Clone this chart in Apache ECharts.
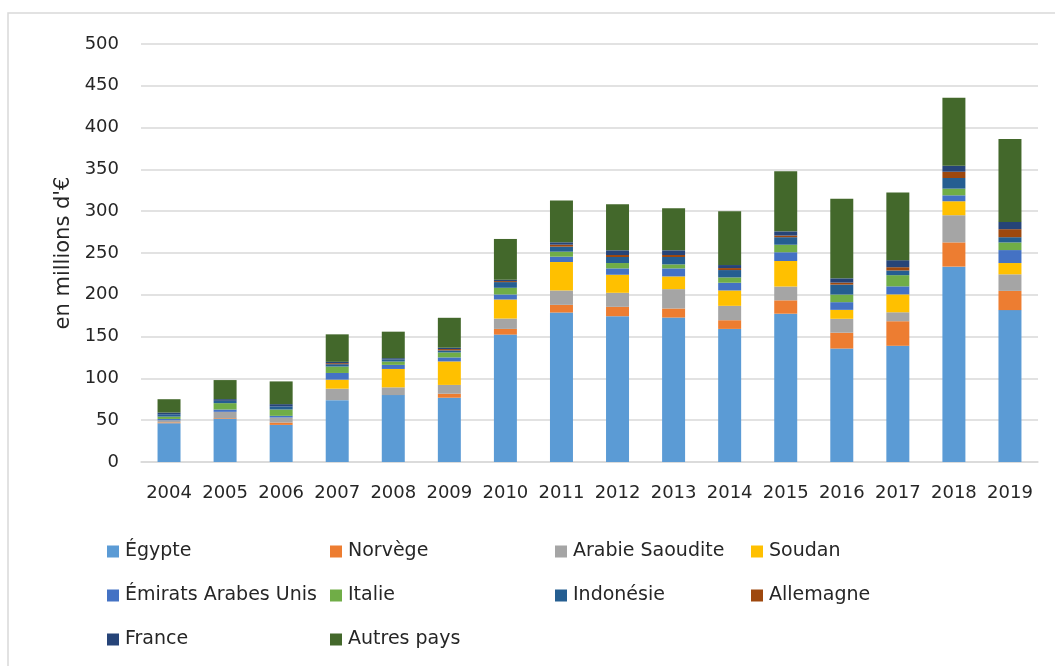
<!DOCTYPE html>
<html>
<head>
<meta charset="utf-8">
<script src="https://cdn.jsdelivr.net/npm/echarts@6/dist/echarts.min.js"></script>
<style>
  html, body { margin: 0; padding: 0; background: #ffffff; }
  #chart { width: 1055px; height: 666px; }
</style>
</head>
<body>
<div id="chart"></div>
<script>
// Exports by destination country, in millions of euros
const years = ['2004','2005','2006','2007','2008','2009','2010','2011','2012','2013','2014','2015','2016','2017','2018','2019'];
const egypte    = [46.4, 51.6, 44.4, 74.0, 80.0, 76.9, 152.4, 178.8, 174.4, 172.8, 159.2, 177.4, 135.7, 139.0, 233.7, 181.7];
const norvege   = [1.0, 0.8, 2.8, 0, 0, 4.8, 6.8, 9.2, 11.2, 10.8, 10.4, 16.0, 19.0, 29.4, 29.0, 23.0];
const arabie    = [2.5, 7.6, 6.0, 13.7, 9.3, 10.5, 12.4, 17.2, 16.8, 23.2, 17.2, 16.5, 16.6, 10.7, 32.5, 19.8];
const soudan    = [0, 0, 0, 10.8, 22.0, 28.1, 22.8, 34.0, 21.6, 15.2, 18.4, 30.5, 10.7, 21.4, 16.7, 13.5];
const emirats   = [1.6, 2.8, 2.0, 8.0, 4.9, 4.8, 6.0, 6.4, 7.6, 9.6, 9.2, 10.5, 9.2, 9.6, 7.1, 15.5];
const italie    = [2.8, 7.6, 7.6, 7.7, 4.0, 6.0, 8.0, 6.0, 6.4, 4.8, 6.4, 9.0, 9.1, 13.4, 8.0, 9.1];
const indonesie = [2.8, 2.8, 3.6, 2.8, 2.4, 2.4, 6.8, 6.0, 7.2, 8.8, 8.8, 9.0, 11.9, 5.6, 12.7, 6.3];
const allemagne = [0, 0, 0, 1.2, 0, 1.6, 1.2, 2.4, 2.4, 2.4, 2.4, 2.0, 2.4, 3.9, 7.5, 9.6];
const france    = [2.0, 2.0, 2.8, 1.6, 1.6, 1.6, 1.6, 2.8, 5.6, 5.6, 3.6, 5.0, 5.1, 8.4, 7.2, 8.7];
const autres    = [16.0, 22.8, 27.2, 32.9, 31.7, 35.8, 48.8, 50.0, 55.2, 50.4, 64.4, 72.0, 95.2, 81.0, 81.3, 99.2];

const seriesNames = ['Égypte','Norvège','Arabie Saoudite','Soudan','Émirats Arabes Unis','Italie','Indonésie','Allemagne','France','Autres pays'];
const seriesData  = [egypte, norvege, arabie, soudan, emirats, italie, indonesie, allemagne, france, autres];
const colors = ['#5B9BD5','#ED7D31','#A5A5A5','#FFC000','#4472C4','#70AD47','#255E91','#9E480E','#264478','#43682B'];

const FONT = '"DejaVu Sans", sans-serif';
const TEXT = '#262626';

// legend laid out as a 4-column grid, one legend block per entry
const legendCols = [102, 325, 550, 746];
const legendRows = [537, 581, 625];
const legends = seriesNames.map((name, i) => ({
  data: [name],
  left: legendCols[i % 4],
  top: legendRows[Math.floor(i / 4)],
  icon: 'rect',
  itemWidth: 12,
  itemHeight: 12,
  textStyle: { fontFamily: FONT, fontSize: 19, color: TEXT, padding: [0, 0, 0, 1] },
  selectedMode: false
}));

const chart = echarts.init(document.getElementById('chart'), null, { renderer: 'canvas' });
chart.setOption({
  animation: false,
  color: colors,
  grid: { left: 141, right: 17, top: 44, bottom: 204, containLabel: false },
  legend: legends,
  graphic: [{
    type: 'rect',
    shape: { x: 8, y: 13, width: 1060, height: 670 },
    style: { fill: 'none', stroke: '#D9D9D9', lineWidth: 1.5 },
    silent: true
  }],
  xAxis: {
    type: 'category',
    data: years,
    axisLine: { lineStyle: { color: '#D9D9D9', width: 1.5 } },
    axisTick: { show: false },
    axisLabel: { fontFamily: FONT, fontSize: 18, color: TEXT, margin: 22, interval: 0 }
  },
  yAxis: {
    type: 'value',
    min: 0, max: 500, interval: 50,
    name: "en millions d'€",
    nameLocation: 'middle',
    nameRotate: 90,
    nameGap: 67,
    nameTextStyle: { fontFamily: FONT, fontSize: 21, color: TEXT },
    axisLine: { show: false },
    axisTick: { show: false },
    splitLine: { lineStyle: { color: '#D9D9D9', width: 1.5 } },
    axisLabel: { fontFamily: FONT, fontSize: 18, color: TEXT, margin: 22 }
  },
  series: seriesNames.map((name, i) => ({
    name: name,
    type: 'bar',
    stack: 'total',
    data: seriesData[i],
    barWidth: '41%',
    itemStyle: { color: colors[i] }
  }))
});
</script>
</body>
</html>
